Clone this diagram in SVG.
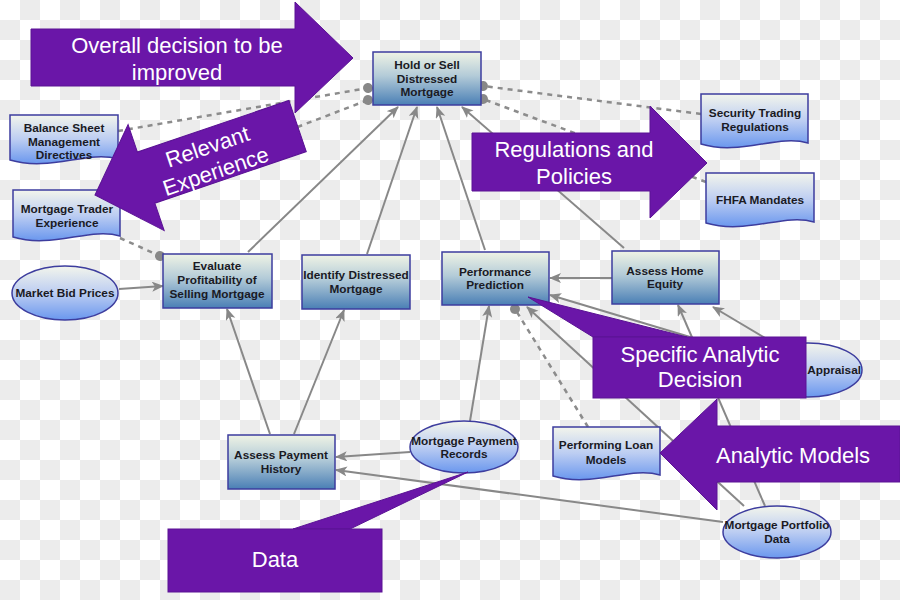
<svg xmlns="http://www.w3.org/2000/svg" width="900" height="600" viewBox="0 0 900 600">
<defs>
<pattern id="chk" width="40" height="40" patternUnits="userSpaceOnUse">
<rect width="40" height="40" fill="#ffffff"/>
<rect x="20" y="0" width="20" height="20" fill="#ececec"/>
<rect x="0" y="20" width="20" height="20" fill="#ececec"/>
</pattern>
<linearGradient id="gDec" x1="0" y1="0" x2="0" y2="1">
<stop offset="0" stop-color="#eff3e5"/>
<stop offset="0.45" stop-color="#b3cbd8"/>
<stop offset="1" stop-color="#4a7fb5"/>
</linearGradient>
<linearGradient id="gDat" x1="0" y1="0" x2="0" y2="1">
<stop offset="0" stop-color="#f3f5ec"/>
<stop offset="0.5" stop-color="#bccdf2"/>
<stop offset="1" stop-color="#6a97ee"/>
</linearGradient>
<marker id="arr" markerUnits="userSpaceOnUse" markerWidth="12" markerHeight="12" refX="11" refY="5" orient="auto">
<path d="M0,0 L12,5 L0,10 L3,5 Z" fill="#888888"/>
</marker>
<marker id="dot" markerUnits="userSpaceOnUse" markerWidth="12" markerHeight="12" refX="6" refY="6" orient="auto">
<circle cx="6" cy="6" r="5" fill="#888888"/>
</marker>
<style>
.dec{fill:url(#gDec);stroke:#3d3d9e;stroke-width:1.5}
.dat{fill:url(#gDat);stroke:#3d3d9e;stroke-width:1.5}
.lbl{font-family:"Liberation Sans",Arial,sans-serif;font-weight:bold;font-size:11.8px;fill:#1a1a24;text-anchor:middle}
.c{stroke:#888888;stroke-width:2;fill:none;marker-end:url(#arr)}
.d{stroke:#8c8c8c;stroke-width:2.5;fill:none;stroke-dasharray:5,5;marker-end:url(#dot)}
.pu{fill:#6a16a8;stroke:#5a1294;stroke-width:1}
.pt{font-family:"Liberation Sans",Arial,sans-serif;font-size:22px;fill:#ffffff;text-anchor:middle}
</style>
</defs>
<rect width="900" height="600" fill="url(#chk)"/>
<g id="connectors">
<path class="c" d="M248,252 L398,107"/>
<path class="c" d="M367,254 L417,107"/>
<path class="c" d="M485,250 L437,107"/>
<path class="c" d="M624,248 L462,107"/>
<path class="c" d="M119,289 L163,286"/>
<path class="c" d="M270,434 L227,309"/>
<path class="c" d="M294,434 L344,310"/>
<path class="c" d="M410,452 L336,457"/>
<path class="c" d="M723,522 L336,470"/>
<path class="c" d="M470,421 L489,306"/>
<path class="c" d="M612,278 L550,278"/>
<path class="c" d="M760,358 L550,295"/>
<path class="c" d="M744,506 L527,307"/>
<path class="c" d="M765,506 L678,305"/>
<path class="c" d="M785,350 L713,307"/>
<path class="d" d="M118,131 L368,88"/>
<path class="d" d="M120,195 L368,100"/>
<path class="d" d="M701,114 L483,86"/>
<path class="d" d="M706,182 L483,99"/>
<path class="d" d="M120,238 L160,256"/>
<path class="d" d="M588,427 L515,309"/>
</g>
<g id="hold">
<rect class="dec" x="373" y="52" width="108" height="53"/>
<text class="lbl" x="427" y="69">Hold or Sell</text>
<text class="lbl" x="427" y="83">Distressed</text>
<text class="lbl" x="427" y="96">Mortgage</text>
</g>
<g id="balance">
<path class="dat" d="M10,115 H118 V159 C88,150 50,172 10,160 Z"/>
<text class="lbl" x="64" y="132">Balance Sheet</text>
<text class="lbl" x="64" y="146">Management</text>
<text class="lbl" x="64" y="159">Directives</text>
</g>
<g id="trader">
<path class="dat" d="M13,190 H120 V236 C90,227 52,249 13,237 Z"/>
<text class="lbl" x="67" y="213">Mortgage Trader</text>
<text class="lbl" x="67" y="227">Experience</text>
</g>
<g id="security">
<path class="dat" d="M701,94 H808 V143 C778,134 740,156 701,144 Z"/>
<text class="lbl" x="755" y="117">Security Trading</text>
<text class="lbl" x="755" y="131">Regulations</text>
</g>
<g id="fhfa">
<path class="dat" d="M706,173 H814 V222 C784,213 746,235 706,223 Z"/>
<text class="lbl" x="760" y="204">FHFA Mandates</text>
</g>
<g id="market">
<ellipse class="dat" cx="65" cy="293" rx="53" ry="27"/>
<text class="lbl" x="65" y="297">Market Bid Prices</text>
</g>
<g id="evaluate">
<rect class="dec" x="163" y="254" width="109" height="54"/>
<text class="lbl" x="217" y="270">Evaluate</text>
<text class="lbl" x="217" y="284">Profitability of</text>
<text class="lbl" x="217" y="298">Selling Mortgage</text>
</g>
<g id="identify">
<rect class="dec" x="302" y="255" width="108" height="54"/>
<text class="lbl" x="356" y="279">Identify Distressed</text>
<text class="lbl" x="356" y="293">Mortgage</text>
</g>
<g id="performance">
<rect class="dec" x="442" y="252" width="107" height="53"/>
<text class="lbl" x="495" y="276">Performance</text>
<text class="lbl" x="495" y="289">Prediction</text>
</g>
<g id="equity">
<rect class="dec" x="612" y="251" width="107" height="53"/>
<text class="lbl" x="665" y="275">Assess Home</text>
<text class="lbl" x="665" y="288">Equity</text>
</g>
<g id="appraisal">
<ellipse class="dat" cx="808" cy="370" rx="54" ry="27"/>
<text class="lbl" x="861" y="374" style="text-anchor:end">Appraisal</text>
</g>
<g id="payhistory">
<rect class="dec" x="228" y="435" width="107" height="54"/>
<text class="lbl" x="281" y="459">Assess Payment</text>
<text class="lbl" x="281" y="473">History</text>
</g>
<g id="payrecords">
<ellipse class="dat" cx="464" cy="447" rx="54" ry="26"/>
<text class="lbl" x="464" y="445">Mortgage Payment</text>
<text class="lbl" x="464" y="458">Records</text>
</g>
<g id="loanmodels">
<path class="dat" d="M553,427 H660 V475 C630,466 592,488 553,476 Z"/>
<text class="lbl" x="606" y="449">Performing Loan</text>
<text class="lbl" x="606" y="464">Models</text>
</g>
<g id="portfolio">
<ellipse class="dat" cx="777" cy="532" rx="54" ry="26"/>
<text class="lbl" x="777" y="529">Mortgage Portfolio</text>
<text class="lbl" x="777" y="543">Data</text>
</g>
<g id="callout-overall">
<polygon class="pu" points="31,29 295,29 295,2 353,58 295,113 295,86 31,86"/>
<text class="pt" x="177" y="53">Overall decision to be</text>
<text class="pt" x="177" y="80">improved</text>
</g>
<g id="callout-experience" transform="translate(95,195) rotate(-18.8)">
<polygon class="pu" points="0,0 54,-56 54,-27 214,-27 214,27 54,27 54,56"/>
<text class="pt" x="122" y="-2">Relevant</text>
<text class="pt" x="122" y="24">Experience</text>
</g>
<g id="callout-regulations">
<polygon class="pu" points="472,133 650,133 650,106 707,163 650,218 650,191 472,191"/>
<text class="pt" x="574" y="157">Regulations and</text>
<text class="pt" x="574" y="184">Policies</text>
</g>
<g id="callout-specific">
<polygon class="pu" points="528,297 593,337 687,337"/>
<rect class="pu" x="593" y="337" width="213" height="61"/>
<text class="pt" x="700" y="362">Specific Analytic</text>
<text class="pt" x="700" y="387">Decision</text>
</g>
<g id="callout-models">
<polygon class="pu" points="900,426 717,426 717,399 660,453 717,510 717,482 900,482"/>
<text class="pt" x="793" y="463">Analytic Models</text>
</g>
<g id="callout-data">
<polygon class="pu" points="468,472 293,529 350,529"/>
<rect class="pu" x="168" y="529" width="214" height="63"/>
<text class="pt" x="275" y="567">Data</text>
</g>
</svg>
